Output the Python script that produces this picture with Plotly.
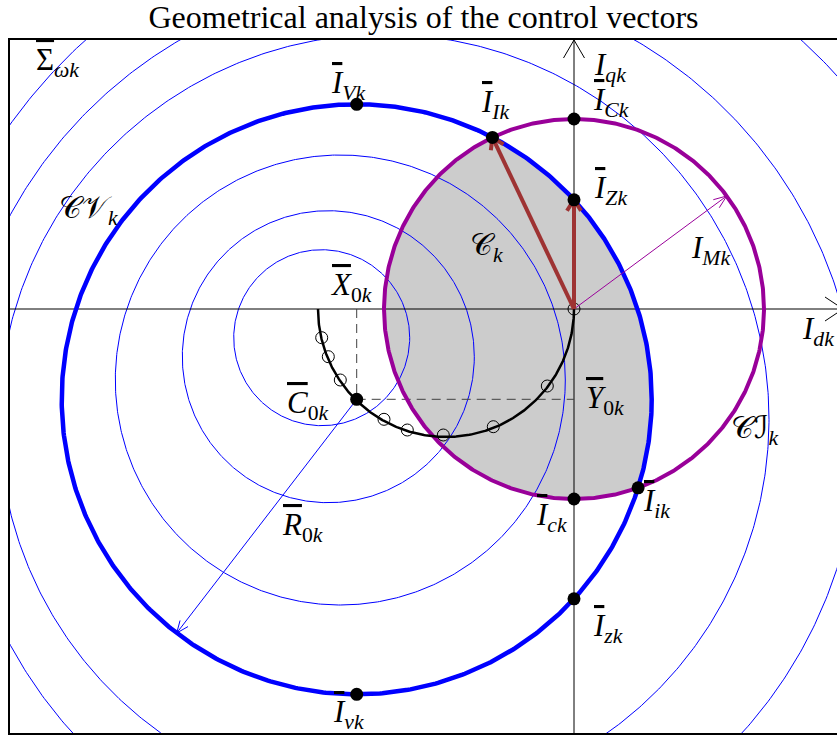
import numpy as np
import plotly.graph_objects as go

# ---------------- data (normalised current units) ----------------
# Family of voltage-limit circles Sigma_wk: centres (on the locus) and radii
sigma_cx = [-2.523, -2.457, -2.337, -2.173, -1.900, -1.667, -1.307, -0.807, -0.267]
sigma_cy = [-0.287, -0.477, -0.710, -0.903, -1.103, -1.210, -1.260, -1.177, -0.770]
sigma_r = [0.88, 1.46, 2.25, 2.95, 3.85, 4.515, 5.33, 6.40, 8.00]
cv_index = 3                 # CV_k : circle centred at C0k
IM = 1.90                    # current limit radius (CI_k)
locus_cx, locus_cy, locus_r = -1.28, 0.0, 1.28   # locus of the centres
IM_angle_deg = 36.5
R0_angle_deg = 232.4
x_range = [-5.64, 2.63]
y_range = [-4.24, 2.69]

BLUE = "#0000FF"
PURPLE = "#990099"
RED = "#9E3333"
GRAY = "#CCCCCC"
FONT = "Liberation Serif, DejaVu Serif, DejaVu Sans, serif"


def circle(cx, cy, r, t0=0.0, t1=2 * np.pi, n=721):
    t = np.linspace(t0, t1, n)
    return cx + r * np.cos(t), cy + r * np.sin(t)


def arrow(x0, y0, x1, y1, L, W):
    d = np.array([x1 - x0, y1 - y0])
    u = d / np.linalg.norm(d)
    p = np.array([-u[1], u[0]])
    tip = np.array([x1, y1])
    b1 = tip - L * u + W * p
    b2 = tip - L * u - W * p
    xs = [x0, x1, None, b1[0], x1, b2[0]]
    ys = [y0, y1, None, b1[1], y1, b2[1]]
    return xs, ys


cx0, cy0, R0 = sigma_cx[cv_index], sigma_cy[cv_index], sigma_r[cv_index]

# intersections CV_k with CI_k
d = np.hypot(cx0, cy0)
a = (IM ** 2 - R0 ** 2 + d ** 2) / (2 * d)
h = np.sqrt(IM ** 2 - a ** 2)
u = np.array([cx0, cy0]) / d
perp = np.array([-u[1], u[0]])
P1 = a * u - h * perp
P2 = a * u + h * perp
I_I, I_i = (P1, P2) if P1[1] > P2[1] else (P2, P1)

# CV_k with q-axis
dz = np.sqrt(R0 ** 2 - cx0 ** 2)
I_Z = np.array([0.0, cy0 + dz])
I_z = np.array([0.0, cy0 - dz])
I_C = np.array([0.0, IM])
I_c = np.array([0.0, -IM])
I_V = np.array([cx0, cy0 + R0])
I_v = np.array([cx0, cy0 - R0])

fig = go.Figure()

# ---- shaded feasible region C_k (intersection of the two disks) ----
aI1 = np.arctan2(I_I[1] - cy0, I_I[0] - cx0)
aI2 = np.arctan2(I_i[1] - cy0, I_i[0] - cx0)
xa, ya = circle(cx0, cy0, R0, aI1, aI2, 300)
bI1 = np.arctan2(I_i[1], I_i[0])
bI2 = np.arctan2(I_I[1], I_I[0])
if bI2 > bI1:
    bI2 -= 2 * np.pi
xb, yb = circle(0, 0, IM, bI1, bI2, 300)
fig.add_trace(go.Scatter(x=np.concatenate([xa, xb]), y=np.concatenate([ya, yb]),
                         fill="toself", fillcolor=GRAY, mode="lines",
                         line=dict(width=0), hoverinfo="skip"))

# ---- thin Sigma circles ----
for i, (cx, cy, r) in enumerate(zip(sigma_cx, sigma_cy, sigma_r)):
    if i == cv_index:
        continue
    xs, ys = circle(cx, cy, r)
    fig.add_trace(go.Scatter(x=xs, y=ys, mode="lines",
                             line=dict(color=BLUE, width=1), hoverinfo="skip"))

# ---- axes ----
xs, ys = arrow(0, y_range[0], 0, y_range[1], 0.18, 0.105)
fig.add_trace(go.Scatter(x=xs, y=ys, mode="lines", line=dict(color="black", width=1),
                         hoverinfo="skip"))
xs, ys = arrow(x_range[0], 0, x_range[1] + 0.06, 0, 0.18, 0.12)
fig.add_trace(go.Scatter(x=xs, y=ys, mode="lines", line=dict(color="black", width=1),
                         hoverinfo="skip"))

# ---- dashed projections of C0k ----
fig.add_trace(go.Scatter(x=[cx0, cx0, None, cx0, 0], y=[0, cy0, None, cy0, cy0],
                         mode="lines", line=dict(color="#404040", width=1, dash="9px,6px"),
                         hoverinfo="skip"))

# ---- thick CV_k and CI_k ----
xs, ys = circle(cx0, cy0, R0)
fig.add_trace(go.Scatter(x=xs, y=ys, mode="lines", line=dict(color=BLUE, width=4.5),
                         hoverinfo="skip"))
xs, ys = circle(0, 0, IM)
fig.add_trace(go.Scatter(x=xs, y=ys, mode="lines", line=dict(color=PURPLE, width=4),
                         hoverinfo="skip"))

# ---- locus of centres ----
xs, ys = circle(locus_cx, locus_cy, locus_r, np.pi, 2 * np.pi, 300)
fig.add_trace(go.Scatter(x=xs, y=ys, mode="lines", line=dict(color="black", width=2.5),
                         hoverinfo="skip"))
ox = [c for i, c in enumerate(sigma_cx) if i != cv_index] + [0.0]
oy = [c for i, c in enumerate(sigma_cy) if i != cv_index] + [0.0]
fig.add_trace(go.Scatter(x=ox, y=oy, mode="markers",
                         marker=dict(symbol="circle-open", size=12, color="black",
                                     line=dict(width=1)), hoverinfo="skip"))

# ---- thin arrows I_Mk and R_0k ----
t = np.deg2rad(IM_angle_deg)
xs, ys = arrow(0, 0, IM * np.cos(t), IM * np.sin(t), 0.13, 0.05)
fig.add_trace(go.Scatter(x=xs, y=ys, mode="lines", line=dict(color=PURPLE, width=1),
                         hoverinfo="skip"))
t = np.deg2rad(R0_angle_deg)
xs, ys = arrow(cx0, cy0, cx0 + R0 * np.cos(t), cy0 + R0 * np.sin(t), 0.12, 0.05)
fig.add_trace(go.Scatter(x=xs, y=ys, mode="lines", line=dict(color=BLUE, width=1),
                         hoverinfo="skip"))

# ---- red control vectors ----
for P in (I_I, I_Z):
    xs, ys = arrow(0, 0, P[0], P[1], 0.11, 0.07)
    fig.add_trace(go.Scatter(x=xs, y=ys, mode="lines", line=dict(color=RED, width=4),
                             hoverinfo="skip"))

# ---- key points ----
pts = [I_V, I_v, I_I, I_i, I_C, I_c, I_Z, I_z, np.array([cx0, cy0])]
fig.add_trace(go.Scatter(x=[p[0] for p in pts], y=[p[1] for p in pts], mode="markers",
                         marker=dict(size=13, color="black"), hoverinfo="skip"))


def ov(s):
    return '<span style="text-decoration:overline">' + s + '</span>'


labels = [
    (-5.17, 2.47, ov("Σ") + "<sub><i>ωk</i></sub>"),
    (-4.86, 0.99, "𝒞𝒱<sub><i>k</i></sub>"),
    (-2.26, 2.24, ov("<i>I</i>") + "<sub><i>Vk</i></sub>"),
    (-0.79, 2.05, ov("<i>I</i>") + "<sub><i>Ik</i></sub>"),
    (0.36, 2.42, "<i>I</i><sub><i>qk</i></sub>"),
    (0.37, 2.07, ov("<i>I</i>") + "<sub><i>Ck</i></sub>"),
    (0.36, 1.19, ov("<i>I</i>") + "<sub><i>Zk</i></sub>"),
    (-0.88, 0.62, "𝒞<sub><i>k</i></sub>"),
    (1.36, 0.59, "<i>I</i><sub><i>Mk</i></sub>"),
    (-2.23, 0.22, ov("<i>X</i>") + "<sub>0<i>k</i></sub>"),
    (-2.66, -0.96, ov("<i>C</i>") + "<sub>0<i>k</i></sub>"),
    (0.31, -0.91, ov("<i>Y</i>") + "<sub>0<i>k</i></sub>"),
    (2.44, -0.22, "<i>I</i><sub><i>dk</i></sub>"),
    (1.81, -1.21, "𝒞ℐ<sub><i>k</i></sub>"),
    (-0.23, -2.08, ov("<i>I</i>") + "<sub><i>ck</i></sub>"),
    (0.82, -1.94, ov("<i>I</i>") + "<sub><i>ik</i></sub>"),
    (0.34, -3.19, ov("<i>I</i>") + "<sub><i>zk</i></sub>"),
    (-2.72, -2.18, ov("<i>R</i>") + "<sub>0<i>k</i></sub>"),
    (-2.26, -4.05, ov("<i>I</i>") + "<sub><i>vk</i></sub>"),
]
for x, y, s in labels:
    fig.add_annotation(x=x, y=y, xref="x", yref="y", text=s, showarrow=False,
                       font=dict(family=FONT, size=31, color="black"),
                       xanchor="center", yanchor="middle")

fig.update_layout(
    width=837, height=738,
    margin=dict(l=10, r=0, t=40, b=5),
    paper_bgcolor="white", plot_bgcolor="white",
    showlegend=False,
    title=dict(text="Geometrical analysis of the control vectors",
               font=dict(family=FONT, size=32, color="black"),
               x=0.506, xanchor="center", y=1 - 17 / 738, yanchor="middle",
               yref="container"),
    xaxis=dict(range=x_range, showgrid=False, zeroline=False, showticklabels=False,
               ticks="", showline=True, linecolor="black", linewidth=1.5, mirror=True),
    yaxis=dict(range=y_range, showgrid=False, zeroline=False, showticklabels=False,
               ticks="", showline=True, linecolor="black", linewidth=1.5, mirror=False),
)

fig.write_html("out.html")
